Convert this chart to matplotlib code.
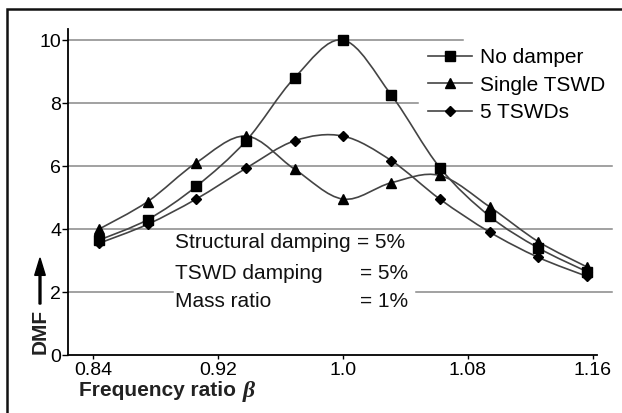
import numpy as np
import matplotlib
matplotlib.use('Agg')
import matplotlib.pyplot as plt
from matplotlib.path import Path
from matplotlib.patches import PathPatch, Rectangle, FancyArrow

# data
freq_ratio = [0.844, 0.875, 0.906, 0.938, 0.969, 1.0, 1.031, 1.062, 1.094, 1.125, 1.156]
no_damper = [3.65, 4.3, 5.35, 6.8, 8.8, 10.0, 8.25, 5.95, 4.4, 3.4, 2.65]
single_tswd = [4.0, 4.87, 6.1, 6.95, 5.9, 4.95, 5.47, 5.7, 4.7, 3.6, 2.8]
five_tswds = [3.55, 4.15, 4.95, 5.93, 6.8, 6.95, 6.17, 4.95, 3.9, 3.1, 2.5]
series_names = ['No damper', 'Single TSWD', '5 TSWDs']
xticks = [0.84, 0.92, 1.0, 1.08, 1.16]
xtick_labels = ['0.84', '0.92', '1.0', '1.08', '1.16']
yticks = [0, 2, 4, 6, 8, 10]

plt.rcParams['font.family'] = ['Liberation Sans', 'DejaVu Sans']


def smooth_path(x, y):
    # catmull-rom through the points, as bezier segments
    x = np.asarray(x, float)
    y = np.asarray(y, float)
    pts = np.column_stack([x, y])
    verts = [pts[0]]
    codes = [Path.MOVETO]
    n = len(pts)
    for i in range(n - 1):
        p0 = pts[i - 1] if i > 0 else pts[i]
        p1 = pts[i]
        p2 = pts[i + 1]
        p3 = pts[i + 2] if i + 2 < n else pts[i + 1]
        c1 = p1 + (p2 - p0) / 6.0
        c2 = p2 - (p3 - p1) / 6.0
        verts += [c1, c2, p2]
        codes += [Path.CURVE4] * 3
    return Path(verts, codes)


fig = plt.figure(figsize=(6.22, 4.13), dpi=100)
ax = fig.add_axes([68 / 622, 58 / 413, 529 / 622, 326 / 413])
ax.set_xlim(0.824, 1.1626)
ax.set_ylim(0, 10.35)

# partial grid lines like the original
grid_kw = dict(color='#888888', lw=1.1, zorder=1, clip_on=False)
ax.plot([0.824, 1.077], [10, 10], **grid_kw)
ax.plot([0.824, 1.048], [8, 8], **grid_kw)
ax.plot([0.824, 1.172], [6, 6], **grid_kw)
ax.plot([0.824, 1.172], [4, 4], **grid_kw)
ax.plot([0.824, 0.891], [2, 2], **grid_kw)
ax.plot([1.047, 1.172], [2, 2], **grid_kw)

line_color = '#444444'
markers = ['s', '^', 'D']
msizes = [6.5, 7, 5]
handles = []
for vals, name, mk, ms in zip([no_damper, single_tswd, five_tswds], series_names, markers, msizes):
    ax.add_patch(PathPatch(smooth_path(freq_ratio, vals), fill=False,
                           edgecolor=line_color, lw=1.2, zorder=2))
    ax.plot(freq_ratio, vals, ls='none', marker=mk, ms=ms, color='black', zorder=3)
    h, = ax.plot([], [], color=line_color, lw=1.2, marker=mk, ms=ms,
                 mfc='black', mec='black', label=name)
    handles.append(h)

leg = ax.legend(handles=handles, loc='upper left', bbox_to_anchor=(428 / 622, 1 - 48 / 413),
                bbox_transform=fig.transFigure, frameon=False, fontsize=15,
                handlelength=2.1, handletextpad=0.4, labelspacing=0.42,
                borderpad=0, borderaxespad=0)

ax.spines['top'].set_visible(False)
ax.spines['right'].set_visible(False)
ax.spines['left'].set_linewidth(1.3)
ax.spines['bottom'].set_linewidth(1.3)
ax.set_xticks(xticks)
ax.set_xticklabels(xtick_labels)
ax.set_yticks(yticks)
ax.tick_params(axis='both', direction='out', length=4, width=1, labelsize=14, pad=1)
ax.tick_params(axis='x', length=3, pad=2)


def px2data(px, py):
    return (px - 343) / 125 * 0.08 + 1.0, (355 - py) / 31.5


text_rows = [('Structural damping', '= 5%', 242, 357),
             ('TSWD damping', '= 5%', 273, 360),
             ('Mass ratio', '= 1%', 301, 360)]
for left, right, py, px_eq in text_rows:
    x0, y0 = px2data(175, py)
    x1, _ = px2data(px_eq, py)
    ax.text(x0, y0, left, fontsize=15, va='center', ha='left', color='#111111')
    ax.text(x1, y0, right, fontsize=15, va='center', ha='left', color='#111111')

fig.text(79 / 622, 1 - 391 / 413, 'Frequency ratio',
         fontsize=15, fontweight='bold', va='center', ha='left', color='#222222')
fig.text(243 / 622, 1 - 391 / 413, 'β', fontsize=17, fontweight='bold', fontstyle='italic',
         family=['Liberation Serif', 'DejaVu Serif'], va='center', ha='left', color='#222222')

fig.text(40 / 622, 1 - 331 / 413, 'DMF', fontsize=15, fontweight='bold', rotation=90,
         va='center', ha='center', color='#222222')
fig.patches.append(FancyArrow(
    40 / 622, 1 - 304 / 413, 0, (304 - 258) / 413, width=0.003, head_width=0.017,
    head_length=0.042, length_includes_head=True, color='black', transform=fig.transFigure))

# frame around the picture (only top and left edges are visible)
fig.patches.append(Rectangle((7 / 622, -0.1), 1.2, 1 - 9 / 413 + 0.1, fill=False,
                             edgecolor='#111111', lw=1.8, transform=fig.transFigure))

fig.savefig('out.png', dpi=100)
